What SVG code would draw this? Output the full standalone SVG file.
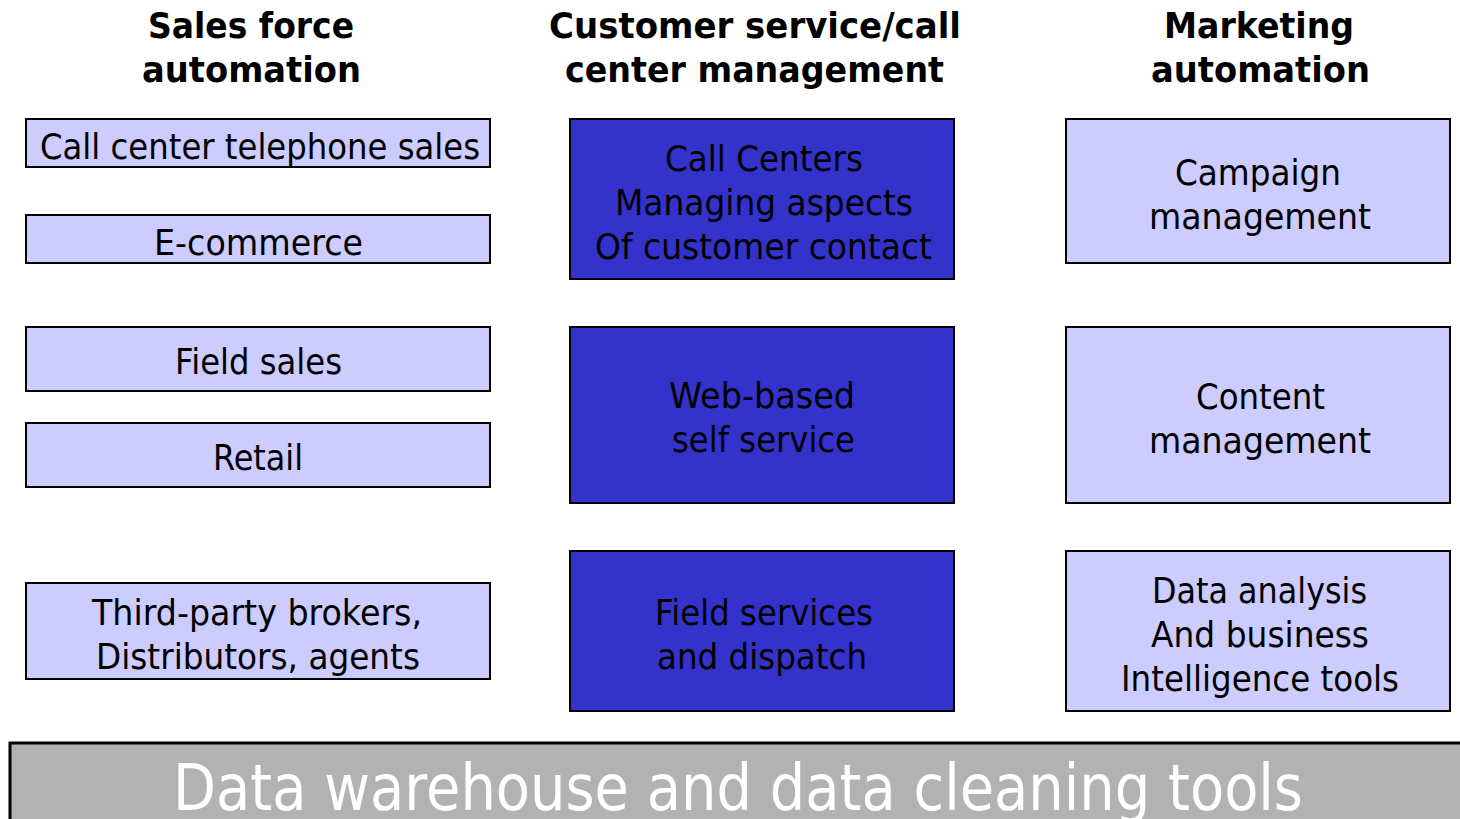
<svg xmlns="http://www.w3.org/2000/svg" width="1460" height="819" viewBox="0 0 1460 819">
  <style>
    .head { font-family: "DejaVu Sans", Verdana, sans-serif; font-weight: bold; font-size: 36px; fill: #000; text-anchor: middle; }
    .lbl { font-family: "DejaVu Sans", Verdana, sans-serif; font-size: 36px; fill: #000; text-anchor: middle; }
    .light { fill: #ccccff; stroke: #000; stroke-width: 2; }
    .dark { fill: #3333cc; stroke: #000; stroke-width: 2; }
    .base { fill: #b2b2b2; stroke: #000; stroke-width: 3; }
    .baseText { font-family: "DejaVu Sans", Verdana, sans-serif; font-size: 64px; fill: #fff; text-anchor: middle; }
  </style>

  <!-- column headings -->
  <g id="heading-sales">
    <text class="head" x="251" y="38" textLength="206" lengthAdjust="spacingAndGlyphs">Sales force</text>
    <text class="head" x="251.5" y="82" textLength="219" lengthAdjust="spacingAndGlyphs">automation</text>
  </g>
  <g id="heading-service">
    <text class="head" x="755" y="38" textLength="412" lengthAdjust="spacingAndGlyphs">Customer service/call</text>
    <text class="head" x="754.5" y="82" textLength="379" lengthAdjust="spacingAndGlyphs">center management</text>
  </g>
  <g id="heading-marketing">
    <text class="head" x="1259" y="38" textLength="190" lengthAdjust="spacingAndGlyphs">Marketing</text>
    <text class="head" x="1260.5" y="82" textLength="219" lengthAdjust="spacingAndGlyphs">automation</text>
  </g>

  <!-- sales force automation column -->
  <g id="call-center-sales">
    <rect class="light" x="26" y="119" width="464" height="48"/>
    <text class="lbl" x="260" y="159" textLength="440" lengthAdjust="spacingAndGlyphs">Call  center telephone sales</text>
  </g>
  <g id="e-commerce">
    <rect class="light" x="26" y="215" width="464" height="48"/>
    <text class="lbl" x="258.5" y="255" textLength="209" lengthAdjust="spacingAndGlyphs">E-commerce</text>
  </g>
  <g id="field-sales">
    <rect class="light" x="26" y="327" width="464" height="64"/>
    <text class="lbl" x="258.5" y="374" textLength="167" lengthAdjust="spacingAndGlyphs">Field sales</text>
  </g>
  <g id="retail">
    <rect class="light" x="26" y="423" width="464" height="64"/>
    <text class="lbl" x="258" y="470" textLength="90" lengthAdjust="spacingAndGlyphs">Retail</text>
  </g>
  <g id="third-party">
    <rect class="light" x="26" y="583" width="464" height="96"/>
    <text class="lbl" x="257" y="625" textLength="330" lengthAdjust="spacingAndGlyphs">Third-party brokers,</text>
    <text class="lbl" x="258" y="669" textLength="324" lengthAdjust="spacingAndGlyphs">Distributors, agents</text>
  </g>

  <!-- customer service / call center column -->
  <g id="call-centers">
    <rect class="dark" x="570" y="119" width="384" height="160"/>
    <text class="lbl" x="764" y="171" textLength="198" lengthAdjust="spacingAndGlyphs">Call Centers</text>
    <text class="lbl" x="764" y="215" textLength="298" lengthAdjust="spacingAndGlyphs">Managing aspects</text>
    <text class="lbl" x="763.5" y="259" textLength="337" lengthAdjust="spacingAndGlyphs">Of customer contact</text>
  </g>
  <g id="web-self-service">
    <rect class="dark" x="570" y="327" width="384" height="176"/>
    <text class="lbl" x="762" y="408" textLength="186" lengthAdjust="spacingAndGlyphs">Web-based</text>
    <text class="lbl" x="763.5" y="452" textLength="183" lengthAdjust="spacingAndGlyphs">self service</text>
  </g>
  <g id="field-services">
    <rect class="dark" x="570" y="551" width="384" height="160"/>
    <text class="lbl" x="764" y="625" textLength="218" lengthAdjust="spacingAndGlyphs">Field services</text>
    <text class="lbl" x="762" y="669" textLength="210" lengthAdjust="spacingAndGlyphs">and dispatch</text>
  </g>

  <!-- marketing automation column -->
  <g id="campaign-management">
    <rect class="light" x="1066" y="119" width="384" height="144"/>
    <text class="lbl" x="1258" y="185" textLength="166" lengthAdjust="spacingAndGlyphs">Campaign</text>
    <text class="lbl" x="1260" y="229" textLength="222" lengthAdjust="spacingAndGlyphs">management</text>
  </g>
  <g id="content-management">
    <rect class="light" x="1066" y="327" width="384" height="176"/>
    <text class="lbl" x="1260.5" y="409" textLength="129" lengthAdjust="spacingAndGlyphs">Content</text>
    <text class="lbl" x="1260" y="453" textLength="222" lengthAdjust="spacingAndGlyphs">management</text>
  </g>
  <g id="data-analysis">
    <rect class="light" x="1066" y="551" width="384" height="160"/>
    <text class="lbl" x="1259.5" y="603" textLength="215" lengthAdjust="spacingAndGlyphs">Data analysis</text>
    <text class="lbl" x="1260" y="647" textLength="218" lengthAdjust="spacingAndGlyphs">And business</text>
    <text class="lbl" x="1260" y="691" textLength="278" lengthAdjust="spacingAndGlyphs">Intelligence tools</text>
  </g>

  <!-- shared foundation bar -->
  <g id="data-warehouse">
    <rect class="base" x="10" y="743" width="1460" height="90"/>
    <text class="baseText" x="738" y="810" textLength="1130" lengthAdjust="spacingAndGlyphs">Data warehouse and data cleaning tools</text>
  </g>

  <!-- no connectors in this diagram -->
  <g id="connectors"/>
</svg>
